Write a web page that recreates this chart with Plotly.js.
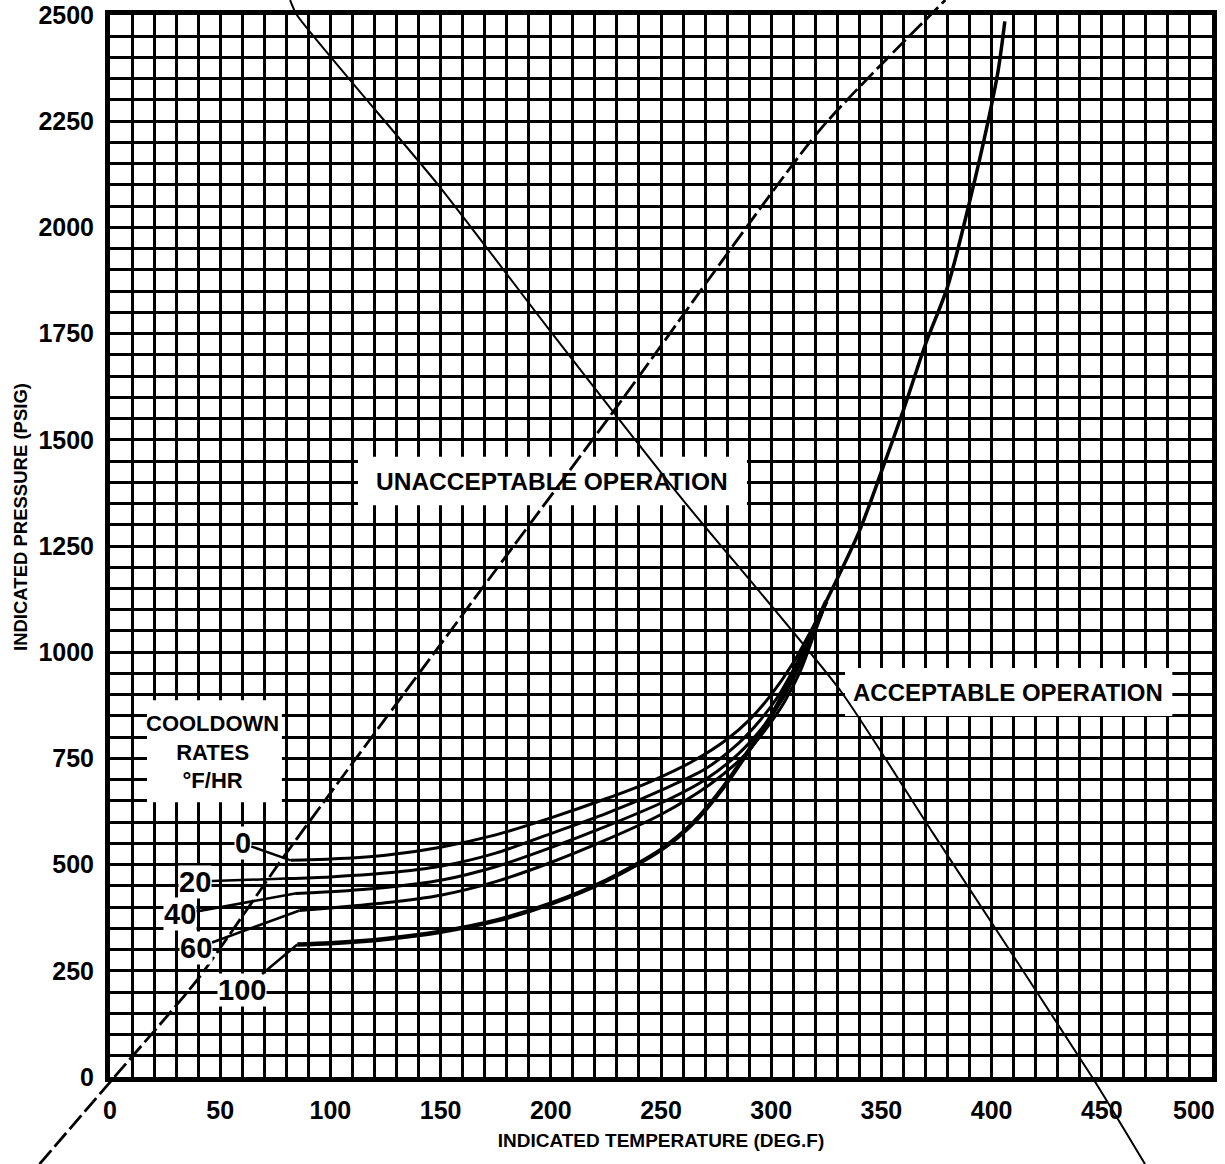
<!DOCTYPE html>
<html>
<head>
<meta charset="utf-8">
<script src="https://cdn.plot.ly/plotly-3.0.1.min.js"></script>
<style>html,body{margin:0;padding:0;background:#fff;}#chart{width:1225px;height:1164px;}</style>
</head>
<body>
<div id="chart"></div>
<script>
// ---------- data ----------
const xTickVals = [0, 50, 100, 150, 200, 250, 300, 350, 400, 450, 500];
const xTickText = ['0', '50', '100', '150', '200', '250', '300', '350', '400', '450', '500'];
const yTickVals = [0, 250, 500, 750, 1000, 1250, 1500, 1750, 2000, 2250, 2500];
const yTickText = ['0', '250', '500', '750', '1000', '1250', '1500', '1750', '2000', '2250', '2500'];

const rateLabels = ['0', '20', '40', '60', '100'];

const rate0T = [82, 100, 125, 150, 175, 200, 225, 245, 265, 280, 290, 300, 310, 318, 325];
const rate0P = [510, 513, 522, 541, 570, 610, 655, 695, 745, 795, 840, 900, 975, 1050, 1120];

const rate20T = [80, 100, 125, 150, 175, 200, 225, 250, 270, 285, 295, 303, 311, 318, 325];
const rate20P = [467, 471, 480, 496, 527, 573, 620, 675, 725, 785, 840, 895, 968, 1045, 1120];

const rate40T = [84, 100, 125, 150, 175, 200, 225, 250, 270, 285, 296, 305, 312, 319, 325];
const rate40P = [432, 436, 446, 463, 495, 540, 590, 645, 700, 760, 822, 888, 958, 1040, 1120];

const rate60T = [86, 100, 125, 150, 175, 200, 225, 250, 272, 288, 298, 306, 313, 319, 325];
const rate60P = [392, 398, 410, 428, 460, 505, 558, 618, 688, 758, 822, 883, 953, 1035, 1120];

const rate100T = [85, 100, 125, 150, 175, 200, 225, 250, 265, 278, 290, 300, 310, 318, 325];
const rate100P = [312, 315, 325, 342, 368, 408, 462, 535, 600, 680, 770, 850, 948, 1040, 1120];

const limitT = [325, 340, 350, 360, 370, 380, 390, 398, 403, 406];
const limitP = [1120, 1285, 1425, 1570, 1725, 1860, 2060, 2240, 2370, 2485];

const dashT = [-32, 2, 39.5, 80, 230, 322, 379];
const dashP = [-205, 0, 228, 527, 1578, 2229, 2535];

const thinT = [81.7, 84.8, 149.7, 198.3, 260, 331.2, 373.4, 445.6, 469.6];
const thinP = [2535, 2500, 2095, 1766, 1358, 911, 574, 0, -205];

// ---------- layout geometry ----------
const W = 1225, H = 1164;
const xDom = [110 / W, 1212 / W];
const yDom = [(H - 1077) / H, (H - 15) / H];
const xR = [0, 500], yR = [0, 2500];
function fullRange(r, d) {
  const span = (r[1] - r[0]) / (d[1] - d[0]);
  return [r[0] - d[0] * span, r[1] + (1 - d[1]) * span];
}

const FONT = '"Liberation Sans", Arial, "Noto Sans", sans-serif';

const rateT = [rate0T, rate20T, rate40T, rate60T, rate100T];
const rateP = [rate0P, rate20P, rate40P, rate60P, rate100P];
const rateWidth = [3, 3, 3, 3, 4.5];

const traces = [];
rateT.forEach((t, i) => {
  traces.push({
    x: t, y: rateP[i], type: 'scatter', mode: 'lines',
    line: {color: 'black', width: rateWidth[i], shape: 'spline', smoothing: 0.8},
    name: rateLabels[i] + ' °F/HR', hoverinfo: 'skip'
  });
});
traces.push({
  x: limitT, y: limitP, type: 'scatter', mode: 'lines',
  line: {color: 'black', width: 3.5, shape: 'spline', smoothing: 0.8}, hoverinfo: 'skip'
});
traces.push({
  x: dashT, y: dashP, type: 'scatter', mode: 'lines', xaxis: 'x2', yaxis: 'y2',
  line: {color: 'black', width: 2.8, dash: '18px,5px', shape: 'spline', smoothing: 0.6}, hoverinfo: 'skip'
});
traces.push({
  x: thinT, y: thinP, type: 'scatter', mode: 'lines', xaxis: 'x2', yaxis: 'y2',
  line: {color: 'black', width: 2, shape: 'spline', smoothing: 0.6}, hoverinfo: 'skip'
});

// leader offsets (pixels) from curve start to label
const leadAx = [-48, -91, -115, -104, -55];
const leadAy = [-17, 3, 21, 38, 46];

const annotations = rateLabels.map((lab, i) => ({
  x: rateT[i][0], y: rateP[i][0], xref: 'x', yref: 'y',
  text: lab, showarrow: true, arrowhead: 0, arrowwidth: 2.5, arrowcolor: 'black',
  ax: leadAx[i], ay: leadAy[i], standoff: 0, bgcolor: 'white', borderpad: 0,
  font: {family: FONT, size: 29, color: 'black', weight: 'bold'}
}));
annotations.push({
  x: 200.5, y: 1403, xref: 'x', yref: 'y', showarrow: false,
  text: 'UNACCEPTABLE OPERATION', font: {family: FONT, size: 24.5, color: 'black', weight: 'bold'}
});
annotations.push({
  x: 407.4, y: 906, xref: 'x', yref: 'y', showarrow: false,
  text: 'ACCEPTABLE OPERATION', font: {family: FONT, size: 24, color: 'black', weight: 'bold'}
});
annotations.push({
  x: 46.7, y: 765, xref: 'x', yref: 'y', showarrow: false,
  text: 'COOLDOWN<br>RATES<br>°F/HR', font: {family: FONT, size: 22, color: 'black', weight: 'bold'}
});
annotations.push({
  x: 20 / W, y: 1 - 517 / H, xref: 'paper', yref: 'paper', xanchor: 'center', yanchor: 'middle',
  showarrow: false, textangle: -90,
  text: 'INDICATED PRESSURE (PSIG)', font: {family: FONT, size: 18.5, color: 'black', weight: 'bold'}
});
// last x tick label is pulled inside the page edge, as in the original
const lastX = xTickVals.length - 1;
annotations.push({
  x: xTickVals[lastX], y: 1 - 1110 / H, xref: 'x', yref: 'paper', xanchor: 'right', yanchor: 'middle',
  xshift: 5, showarrow: false,
  text: xTickText[lastX], font: {family: FONT, size: 25, color: 'black', weight: 'bold'}
});
const xTickShown = xTickText.map((t, i) => (i === lastX ? '' : t));

const boxes = [
  [112.5, 289, 1346, 1460],
  [333.5, 482, 850, 963],
  [16.8, 78, 647, 887]
];
const shapes = boxes.map(b => ({
  type: 'rect', xref: 'x', yref: 'y', x0: b[0], x1: b[1], y0: b[2], y1: b[3],
  fillcolor: 'white', line: {width: 0}, layer: 'between'
}));

const axisCommon = {
  showgrid: true, gridcolor: 'black', gridwidth: 3,
  showline: true, linecolor: 'black', linewidth: 5, mirror: true,
  zeroline: false, ticks: '', automargin: false, fixedrange: true,
  tickfont: {family: FONT, size: 25, color: 'black', weight: 'bold'},
  tickmode: 'array'
};

const layout = {
  width: W, height: H,
  margin: {l: 0, r: 0, t: 0, b: 0},
  paper_bgcolor: 'white', plot_bgcolor: 'rgba(0,0,0,0)',
  showlegend: false,
  xaxis: Object.assign({}, axisCommon, {
    domain: xDom, range: xR, tickvals: xTickVals, ticktext: xTickShown, anchor: 'y',
    ticklabelstandoff: 7,
    minor: {tickmode: 'linear', tick0: 0, dtick: 10, showgrid: true, gridcolor: 'black', gridwidth: 3, ticks: ''},
    title: {text: 'INDICATED TEMPERATURE (DEG.F)', standoff: 12,
            font: {family: FONT, size: 19, color: 'black', weight: 'bold'}}
  }),
  yaxis: Object.assign({}, axisCommon, {
    domain: yDom, range: yR, tickvals: yTickVals, ticktext: yTickText, anchor: 'x',
    ticklabelstandoff: 6,
    minor: {tickmode: 'linear', tick0: 0, dtick: 50, showgrid: true, gridcolor: 'black', gridwidth: 3, ticks: ''}
  }),
  xaxis2: {domain: [0, 1], range: fullRange(xR, xDom), visible: false, anchor: 'y2', fixedrange: true},
  yaxis2: {domain: [0, 1], range: fullRange(yR, yDom), visible: false, anchor: 'x2', fixedrange: true},
  annotations: annotations,
  shapes: shapes
};

Plotly.newPlot('chart', traces, layout, {displayModeBar: false, staticPlot: true});
</script>
</body>
</html>
